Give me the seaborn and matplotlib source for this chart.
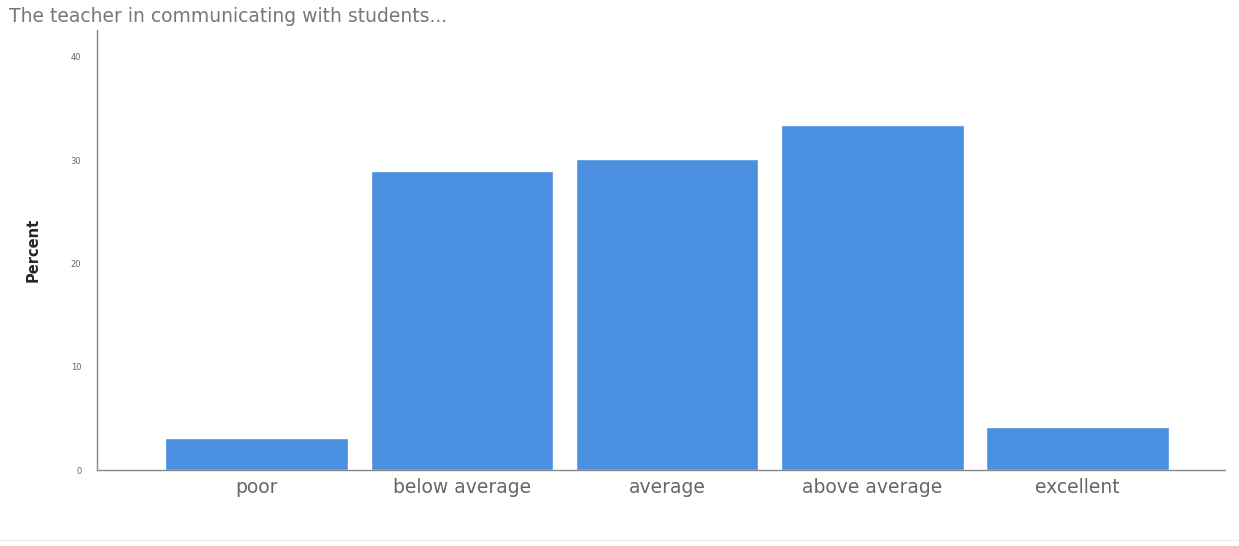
import matplotlib
matplotlib.use("Agg")
import matplotlib.pyplot as plt
import seaborn as sns
import pandas as pd

categories = ["poor", "below average", "average", "above average", "excellent"]
percent = [3.1, 29.0, 30.1, 33.4, 4.2]
yticks = [0, 10, 20, 30, 40]
title = "The teacher in communicating with students..."

sns.set_style("white")
plt.rcParams['font.family'] = ['DejaVu Sans']

df = pd.DataFrame({"category": categories, "percent": percent})

fig = plt.figure(figsize=(12.39, 5.46), dpi=100)
ax = fig.add_axes([0.078, 0.139, 0.911, 0.806])
sns.barplot(data=df, x="category", y="percent", color="#4a8fe0", saturation=1,
            width=0.89, ax=ax)
ax.set_xlim(-0.78, 4.72)
ax.set_ylim(0, 42.6)
ax.set_yticks(yticks)
ax.set_yticklabels([str(t) for t in yticks], fontsize=6, color="#666666")
ax.tick_params(axis="x", labelsize=13.5, colors="#666666", length=0, pad=6)
ax.tick_params(axis="y", length=3, color="#888888", pad=8)
ax.set_xlabel("")
ax.set_ylabel("Percent", fontsize=10.5, fontweight="bold", labelpad=22)
for s in ["top", "right"]:
    ax.spines[s].set_visible(False)
for s in ["left", "bottom"]:
    ax.spines[s].set_color("#888888")
    ax.spines[s].set_linewidth(1)
fig.text(0.007, 0.953, title, fontsize=13.5, color="#777777", ha="left", va="bottom")
fig.add_artist(plt.Line2D([0, 1], [0.011, 0.011], color="#eeeeee", lw=1))
fig.savefig("out.png", dpi=100)
